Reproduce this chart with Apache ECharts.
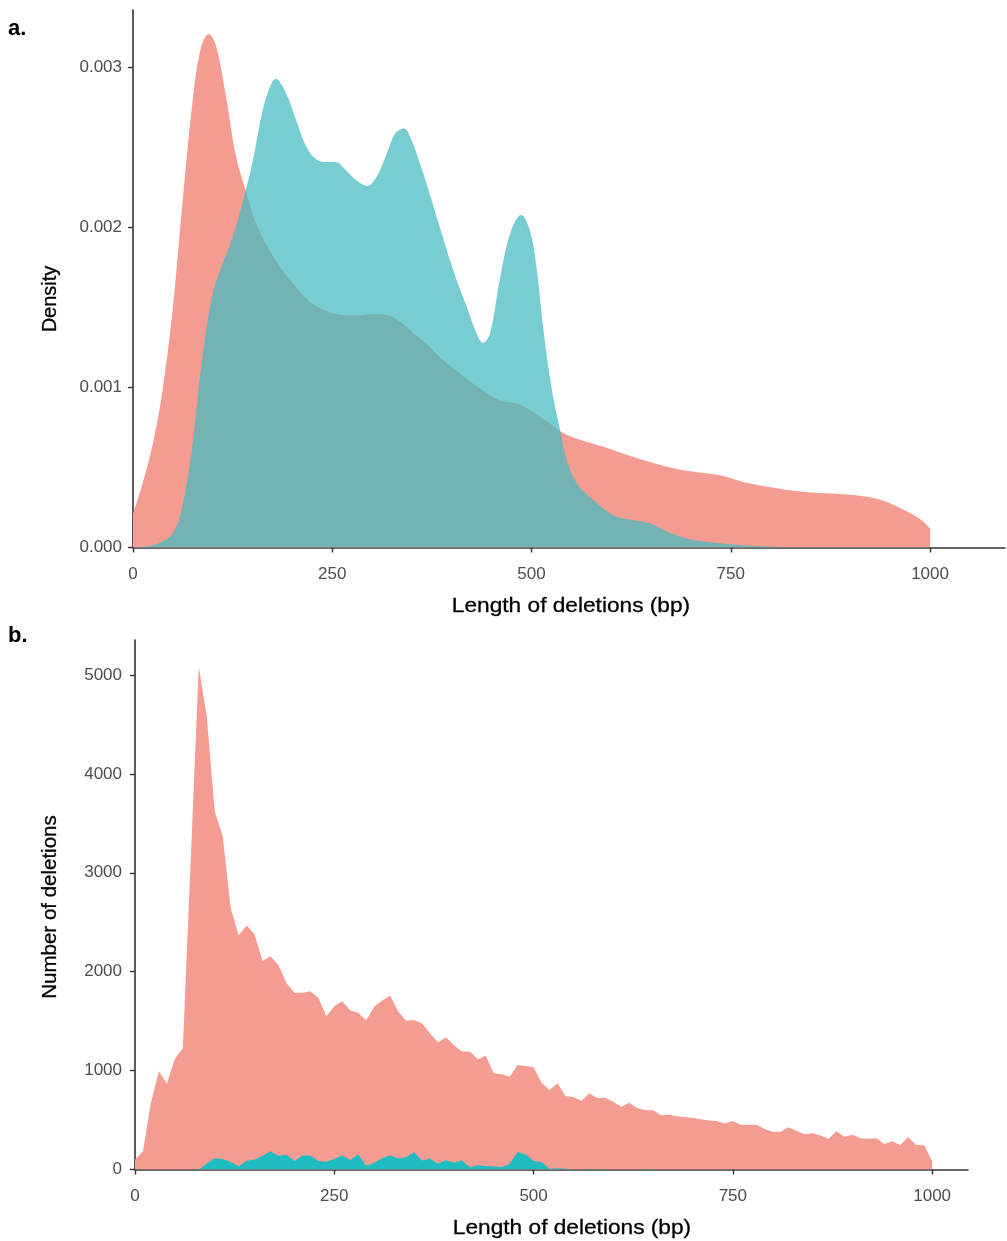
<!DOCTYPE html>
<html>
<head>
<meta charset="utf-8">
<script src="https://cdn.jsdelivr.net/npm/echarts@6/dist/echarts.min.js"></script>
<style>
html,body{margin:0;padding:0;background:#fff;}
#chart{width:1007px;height:1241px;}
</style>
</head>
<body>
<div id="chart"></div>
<script>
// ---------- Panel a: density of deletion lengths ----------
const densRedX = [0,12,25,37,50,62,75,85,95,104,117,129,142,154,171,188,204,221,238,254,279,304,321,338,354,371,385,410,435,460,481,498,519,538,557,590,632,670,695,737,774,837,900,937,969,987,1000];
const densRedY = [0.00021,0.0004,0.00065,0.00098,0.0015,0.00215,0.0028,0.00312,0.00321,0.00314,0.00281,0.00245,0.00222,0.00203,0.00186,0.00173,0.00163,0.00154,0.00149,0.00146,0.00145,0.00146,0.00145,0.0014,0.00133,0.00126,0.00119,0.00109,0.000995,0.00092,0.0009,0.00086,0.00079,0.00072,0.00068,0.00063,0.00056,0.000505,0.00048,0.00045,0.0004,0.00035,0.00033,0.0003,0.00023,0.00018,0.00012];

const densTealX = [0,29,50,62,75,87,100,112,125,137,150,162,171,179,192,204,217,229,242,254,267,279,294,306,319,329,340,350,360,371,385,402,419,431,439,448,460,473,487,498,506,515,525,536,544,557,577,603,628,649,670,695,737,780,850,1000];
const densTealY = [0,0.00002,0.00009,0.00026,0.00066,0.00119,0.00159,0.00177,0.00194,0.00215,0.00241,0.00272,0.00287,0.00293,0.00284,0.00268,0.00251,0.00243,0.00241,0.00241,0.00236,0.0023,0.00226,0.00232,0.00247,0.00259,0.00262,0.00254,0.0024,0.00223,0.002,0.00173,0.0015,0.00134,0.00128,0.00134,0.00167,0.00196,0.00208,0.00198,0.00176,0.00136,0.001,0.00073,0.00055,0.0004,0.0003,0.0002,0.00017,0.00015,0.0001,0.000057,0.000026,0.00001,0.000002,0];

// ---------- Panel b: number of deletions per 10 bp bin ----------
const binStart = [0,10,20,30,40,50,60,70,80,90,100,110,120,130,140,150,160,170,180,190,200,210,220,230,240,250,260,270,280,290,300,310,320,330,340,350,360,370,380,390,400,410,420,430,440,450,460,470,480,490,500,510,520,530,540,550,560,570,580,590,600,610,620,630,640,650,660,670,680,690,700,710,720,730,740,750,760,770,780,790,800,810,820,830,840,850,860,870,880,890,900,910,920,930,940,950,960,970,980,990,1000];
const countRed = [100,185,674,994,866,1122,1223,3150,5083,4584,3623,3370,2646,2369,2467,2376,2107,2157,2066,1887,1786,1786,1803,1736,1550,1651,1702,1611,1584,1510,1645,1709,1759,1601,1505,1512,1478,1377,1283,1336,1259,1192,1192,1114,1151,972,962,939,1057,1047,1033,878,804,871,743,733,696,770,723,726,686,635,676,622,601,598,548,554,538,528,520,508,496,490,466,490,450,452,452,410,382,382,426,389,356,366,345,312,389,332,352,315,312,315,258,285,248,325,248,244,86];
const countTeal = [0,0,0,0,0,0,0,0,0,60,115,105,75,32,88,100,140,185,140,148,86,142,142,85,79,106,142,96,155,39,68,115,143,110,125,176,90,111,59,97,69,93,22,44,35,30,25,55,177,152,85,75,7,12,7,2,0,8,0,2,0,0,0,0,0,5,0,0,0,0,0,0,0,0,0,0,0,0,0,0,0,0,0,0,0,0,0,0,0,0,0,0,0,0,0,0,0,0,0,0,0];

// axis ticks
const xTicks = [0,250,500,750,1000];
const densTicks = [0,0.001,0.002,0.003];
const countTicks = [0,1000,2000,3000,4000,5000];

const zip = (xs, ys) => xs.map((x, i) => [x, ys[i]]);

const RED = '#F49C91';
const TEAL_A = 'rgba(70,186,193,0.73)';
const TEAL_B = '#1FBDC2';
const FONT = '"Liberation Sans", Arial, Helvetica, sans-serif';

function xAxisCfg(gi, max) {
  return {
    gridIndex: gi, type: 'value', min: 0, max: max,
    axisLine: {show: true, onZero: false, lineStyle: {color: '#333', width: 1.6}},
    axisTick: {show: true, length: 5, customValues: xTicks, lineStyle: {color: '#333', width: 1.4}},
    axisLabel: {customValues: xTicks, margin: 18, color: '#4d4d4d', fontSize: 17, fontFamily: FONT, formatter: v => String(v)},
    splitLine: {show: false}
  };
}
function yAxisCfg(gi, max, ticks, fmt, margin) {
  return {
    gridIndex: gi, type: 'value', min: 0, max: max,
    axisLine: {show: true, onZero: false, lineStyle: {color: '#333', width: 1.6}},
    axisTick: {show: true, length: 5, customValues: ticks, lineStyle: {color: '#333', width: 1.4}},
    axisLabel: {customValues: ticks, margin: margin, color: '#4d4d4d', fontSize: 17, fontFamily: FONT, formatter: fmt},
    splitLine: {show: false}
  };
}

const chart = echarts.init(document.getElementById('chart'), null, {renderer: 'canvas'});
chart.setOption({
  animation: false,
  backgroundColor: '#fff',
  grid: [
    {left: 133, top: 10, width: 872, height: 537.5},
    {left: 135, top: 640, width: 833, height: 529.5}
  ],
  xAxis: [xAxisCfg(0, 1094), xAxisCfg(1, 1045)],
  yAxis: [
    yAxisCfg(0, 0.00336, densTicks, v => v.toFixed(3), 11),
    yAxisCfg(1, 5354, countTicks, v => String(v), 13)
  ],
  series: [
    {type: 'line', xAxisIndex: 0, yAxisIndex: 0, data: zip(densRedX, densRedY), smooth: 0.35,
     symbol: 'none', lineStyle: {width: 0}, areaStyle: {color: RED, opacity: 1}, z: 2},
    {type: 'line', xAxisIndex: 0, yAxisIndex: 0, data: zip(densTealX, densTealY), smooth: 0.35,
     symbol: 'none', lineStyle: {width: 0}, areaStyle: {color: TEAL_A, opacity: 1}, z: 3},
    {type: 'line', xAxisIndex: 1, yAxisIndex: 1, data: zip(binStart, countRed), smooth: false,
     symbol: 'none', lineStyle: {width: 0}, areaStyle: {color: RED, opacity: 1}, z: 2},
    {type: 'line', xAxisIndex: 1, yAxisIndex: 1, data: zip(binStart, countTeal), smooth: false,
     symbol: 'none', lineStyle: {width: 0}, areaStyle: {color: TEAL_B, opacity: 1}, z: 3}
  ],
  graphic: [
    {type: 'text', x: 8, y: 18, style: {text: 'a.', font: 'bold 22px ' + FONT, fill: '#000'}},
    {type: 'text', x: 8, y: 625, style: {text: 'b.', font: 'bold 22px ' + FONT, fill: '#000'}},
    {type: 'text', x: 50, y: 299, rotation: Math.PI / 2,
     style: {text: 'Density', font: '20px ' + FONT, fill: '#000', stroke: '#000', lineWidth: 0.3, textAlign: 'center', textVerticalAlign: 'middle'}},
    {type: 'text', x: 571, y: 606, scaleX: 1.08,
     style: {text: 'Length of deletions (bp)', font: '21px ' + FONT, fill: '#000', stroke: '#000', lineWidth: 0.3, textAlign: 'center', textVerticalAlign: 'middle'}},
    {type: 'text', x: 50, y: 907, rotation: Math.PI / 2,
     style: {text: 'Number of deletions', font: '20.5px ' + FONT, fill: '#000', stroke: '#000', lineWidth: 0.3, textAlign: 'center', textVerticalAlign: 'middle'}},
    {type: 'text', x: 572, y: 1228, scaleX: 1.08,
     style: {text: 'Length of deletions (bp)', font: '21px ' + FONT, fill: '#000', stroke: '#000', lineWidth: 0.3, textAlign: 'center', textVerticalAlign: 'middle'}}
  ]
});
</script>
</body>
</html>
